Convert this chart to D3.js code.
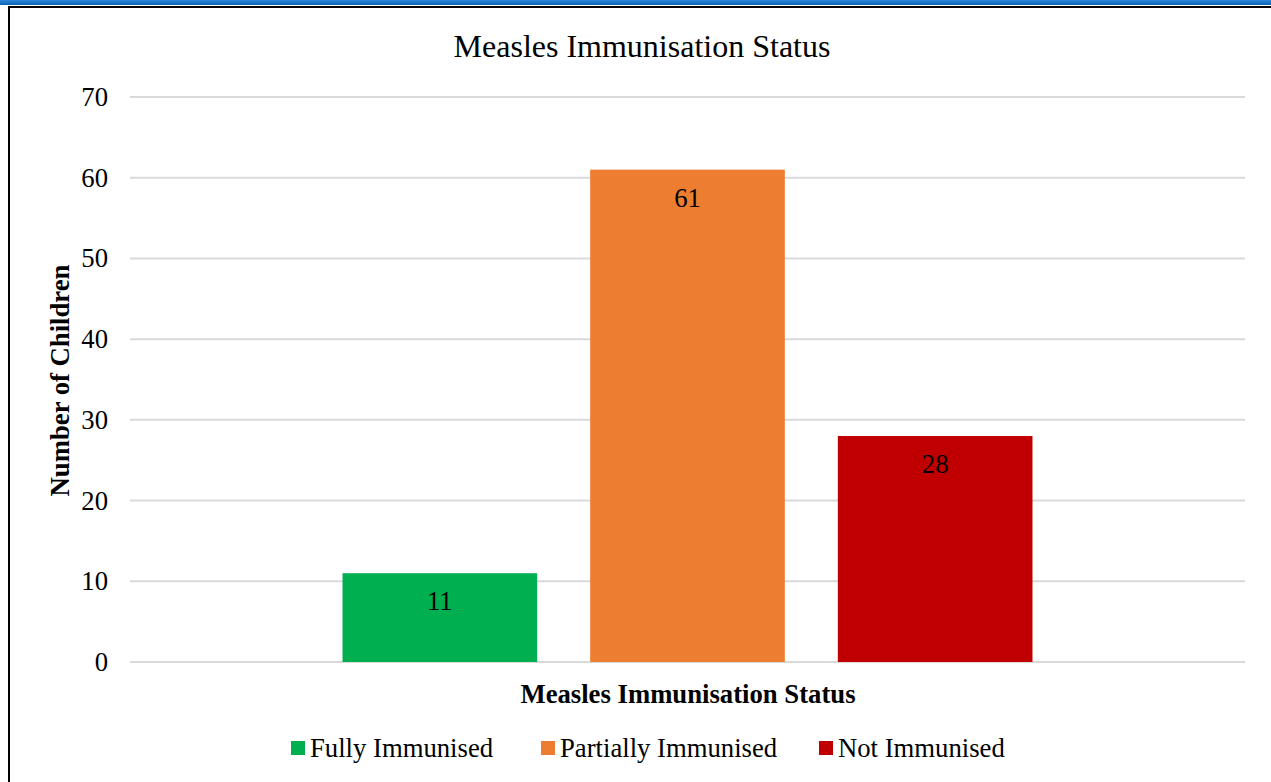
<!DOCTYPE html>
<html>
<head>
<meta charset="utf-8">
<script src="https://cdn.jsdelivr.net/npm/d3@7"></script>
<style>
  body { margin: 0; background: #fff; }
  text { font-family: "Liberation Serif", "Times New Roman", serif; fill: #000; }
</style>
</head>
<body>
<svg id="chart" width="1271" height="782"></svg>
<script>
var categories = ["Fully Immunised", "Partially Immunised", "Not Immunised"];
var values = [11, 61, 28];
var colors = ["#00b050", "#ed7d31", "#c00000"];
var yTicks = [0, 10, 20, 30, 40, 50, 60, 70];

var svg = d3.select("#chart");
var fs = 26.7; // 20pt

// page decoration: blue band and black frame
var grad = svg.append("defs").append("linearGradient")
    .attr("id", "band").attr("x1", 0).attr("y1", 0).attr("x2", 0).attr("y2", 1);
grad.append("stop").attr("offset", "0%").attr("stop-color", "#2f86d6");
grad.append("stop").attr("offset", "100%").attr("stop-color", "#0a64b8");
svg.append("rect").attr("x", 0).attr("y", 0).attr("width", 1271).attr("height", 5).attr("fill", "url(#band)");
svg.append("line").attr("x1", 8).attr("x2", 1271).attr("y1", 7).attr("y2", 7)
    .attr("stroke", "#000").attr("stroke-width", 2);
svg.append("line").attr("x1", 9).attr("x2", 9).attr("y1", 6).attr("y2", 782)
    .attr("stroke", "#000").attr("stroke-width", 2);

var plotLeft = 130, plotRight = 1245, plotTop = 97, plotBottom = 662;

var y = d3.scaleLinear().domain([0, 70]).range([plotBottom, plotTop]);

// single category holding three series
var x0 = d3.scaleBand().domain(["Measles"]).range([plotLeft, plotRight]).paddingInner(0).paddingOuter(0.308);
var x1 = d3.scaleBand().domain(categories).range([x0("Measles"), x0("Measles") + x0.bandwidth()])
    .paddingInner(0.214).paddingOuter(0);

// gridlines
svg.append("g").selectAll("line").data(yTicks).enter().append("line")
    .attr("x1", plotLeft).attr("x2", plotRight)
    .attr("y1", function(d) { return y(d); }).attr("y2", function(d) { return y(d); })
    .attr("stroke", "#d9d9d9").attr("stroke-width", 2);

// y axis labels
var yAxis = svg.append("g")
    .attr("transform", "translate(" + (plotLeft - 22) + ",0)")
    .call(d3.axisLeft(y).tickValues(yTicks).tickSize(0).tickPadding(0));
yAxis.select(".domain").remove();
yAxis.selectAll("text").style("font-size", fs + "px")
    .style("font-family", "'Liberation Serif', serif").attr("fill", "#000");

// bars
svg.append("g").selectAll("rect").data(values).enter().append("rect")
    .attr("x", function(d, i) { return x1(categories[i]); })
    .attr("width", x1.bandwidth())
    .attr("y", function(d) { return y(d); })
    .attr("height", function(d) { return y(0) - y(d); })
    .attr("fill", function(d, i) { return colors[i]; });

// value labels
svg.append("g").selectAll("text").data(values).enter().append("text")
    .attr("x", function(d, i) { return x1(categories[i]) + x1.bandwidth() / 2; })
    .attr("y", function(d) { return y(d) + 37; })
    .attr("text-anchor", "middle")
    .style("font-size", fs + "px")
    .text(function(d) { return d; });

// title
svg.append("text").attr("x", 642).attr("y", 57).attr("text-anchor", "middle")
    .style("font-size", "32px").text("Measles Immunisation Status");

// axis titles
svg.append("text").attr("x", 688).attr("y", 703).attr("text-anchor", "middle")
    .style("font-size", fs + "px").style("font-weight", "bold").text("Measles Immunisation Status");
svg.append("text").attr("transform", "translate(69," + ((plotTop + plotBottom) / 2 + 1) + ") rotate(-90)")
    .attr("text-anchor", "middle")
    .style("font-size", fs + "px").style("font-weight", "bold").text("Number of Children");

// legend
var legendX = [291, 541, 819];
var lg = svg.append("g").selectAll("g").data(categories).enter().append("g")
    .attr("transform", function(d, i) { return "translate(" + legendX[i] + ",741)"; });
lg.append("rect").attr("width", 14).attr("height", 14)
    .attr("fill", function(d, i) { return colors[i]; });
lg.append("text").attr("x", 19).attr("y", 16).style("font-size", fs + "px")
    .text(function(d) { return d; });
</script>
</body>
</html>
